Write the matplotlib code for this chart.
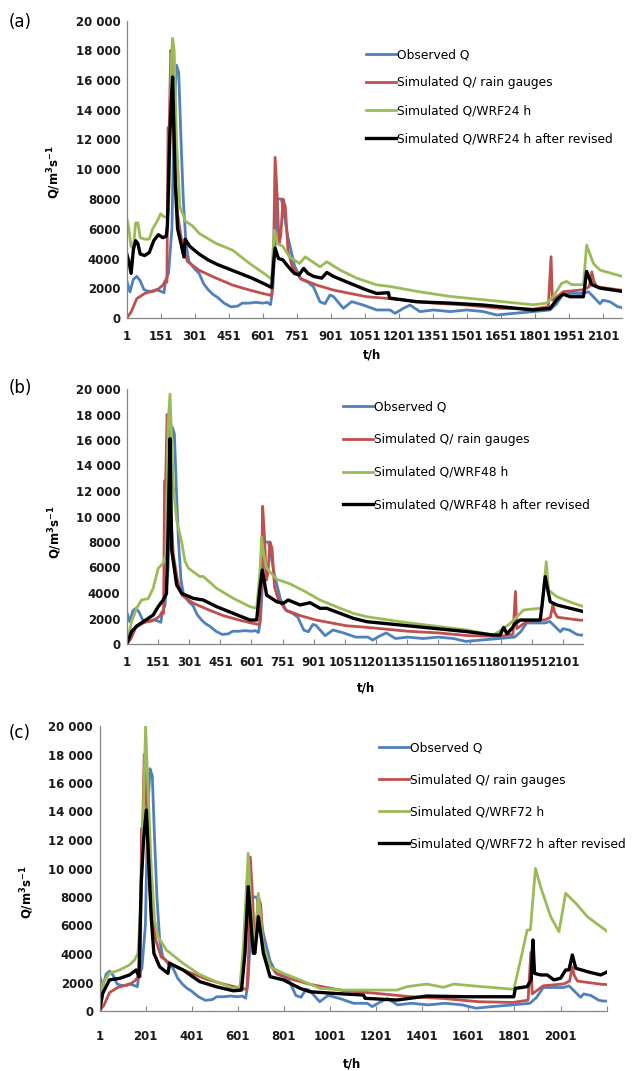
import matplotlib
matplotlib.use("Agg")
import matplotlib.pyplot as plt

# ---- data (t in hours, Q in m3/s) ----
# observed Q and the rain gauge simulation are the same in all three panels
obs_t = [1, 15, 30, 45, 60, 77, 95, 110, 130, 150, 165, 172, 185, 200, 210, 220, 230, 240, 250, 262,
         275, 300, 320, 340, 360, 380, 400, 430, 460, 490, 510, 540, 570, 600, 620, 635, 645, 655, 662, 683,
         700, 712, 741, 770, 800, 824, 853, 875, 897, 912, 956, 993, 1044, 1103, 1162, 1184, 1221, 1250, 1294, 1353,
         1427, 1500, 1574, 1633, 1706, 1794, 1868, 1897, 1926, 2015, 2037, 2088, 2101, 2132, 2166, 2184, 2205]
obs_q = [2500, 1750, 2600, 2800, 2500, 1900, 1800, 1800, 1900, 1800, 1700, 2500, 3000, 6000, 14000, 17000, 16500, 12000, 8000, 5000,
         3800, 3300, 3000, 2300, 1900, 1600, 1400, 1000, 750, 800, 1000, 1000, 1050, 1000, 1050, 900, 2000, 5000, 8000, 8000,
         6500, 5400, 3500, 2600, 2400, 2100, 1090, 960, 1540, 1450, 650, 1100, 870, 540, 540, 310, 650, 870, 430, 540,
         430, 540, 430, 200, 310, 430, 540, 960, 1650, 1650, 1770, 960, 1200, 1090, 760, 700, 700]

gauge_t = [1, 20, 45, 60, 80, 100, 120, 140, 160, 170, 178, 183, 188, 195, 200, 210, 225, 245, 268, 321,
           395, 468, 542, 600, 630, 640, 648, 655, 665, 672, 680, 690, 700, 712, 730, 766, 839, 912, 986, 1059,
           1133, 1206, 1353, 1500, 1647, 1794, 1860, 1872, 1878, 1890, 1926, 2015, 2040, 2052, 2060, 2074, 2176, 2205]
gauge_q = [0, 400, 1300, 1450, 1650, 1750, 1800, 1950, 2200, 2500, 2400, 12800, 12800, 18000, 17500, 11000, 7000, 5000, 3800, 3200,
           2680, 2210, 1880, 1650, 1550, 1500, 4000, 10800, 8000, 5000, 5500, 8000, 7500, 4500, 3500, 2660, 2210, 1880, 1650, 1430,
           1340, 1230, 1000, 870, 650, 600, 760, 4120, 1200, 1340, 1770, 1900, 2100, 3100, 2500, 2100, 1880, 1850]

# WRF 24 h
w24_t = [1, 10, 20, 30, 40, 50, 60, 80, 100, 115, 135, 150, 165, 178, 185, 192, 198, 203, 210, 220,
         235, 260, 290, 321, 395, 468, 542, 616, 640, 646, 652, 665, 690, 719, 763, 788, 853, 883, 942, 1015,
         1103, 1162, 1280, 1427, 1574, 1721, 1794, 1853, 1882, 1919, 1941, 1963, 2015, 2029, 2059, 2088, 2185]
w24_q = [6700, 6000, 4800, 4700, 6400, 6400, 5400, 5300, 5300, 6000, 6500, 7000, 6800, 6800, 7000, 12000, 17500, 18800, 18000, 12000,
         7500, 6500, 6200, 5680, 5010, 4560, 3670, 2890, 2600, 4500, 5900, 5000, 4800, 4100, 3670, 4110, 3440, 3780, 3220, 2680,
         2230, 2120, 1790, 1450, 1230, 1000, 890, 1000, 1450, 2330, 2460, 2240, 2240, 4900, 3660, 3220, 2800]
r24_t = [1, 10, 20, 30, 40, 50, 60, 80, 100, 120, 140, 160, 175, 180, 190, 197, 203, 210, 215,
         225, 240, 253, 258, 280, 320, 360, 400, 450, 500, 550, 600, 640, 650, 655, 670, 690, 710, 740, 760,
         781, 800, 824, 861, 883, 912, 986, 1059, 1103, 1155, 1160, 1280, 1427, 1574, 1721, 1794, 1868, 1897, 1926, 1956,
         2015, 2029, 2052, 2088, 2185]
r24_q = [4300, 3800, 3000, 4600, 5200, 5000, 4300, 4200, 4400, 5200, 5600, 5400, 5500, 6200, 12000, 14500, 16200, 12000, 9000,
         6000, 5000, 4100, 5300, 4800, 4300, 3900, 3600, 3300, 3000, 2700, 2350, 2050, 4000, 4700, 4000, 3900, 3500, 3000, 2900,
         3330, 3000, 2800, 2680, 3060, 2800, 2330, 1880, 1650, 1700, 1340, 1090, 1000, 870, 650, 540, 650, 1230, 1600, 1430,
         1430, 3130, 2240, 2010, 1790]

# WRF 48 h
w48_t = [1, 24, 48, 72, 104, 128, 152, 176, 189, 195, 200, 209, 217, 225, 241, 265, 281, 297, 353, 369,
         433, 514, 594, 626, 642, 650, 660, 674, 722, 787, 851, 931, 1028, 1092, 1156, 1317, 1477, 1638, 1766, 1815,
         1847, 1887, 1911, 1991, 2000, 2020, 2031, 2071, 2152, 2200]
w48_q = [0, 1750, 2800, 3450, 3560, 4370, 5930, 6340, 7000, 12000, 17400, 19600, 16100, 12300, 9700, 8000, 6500, 5950, 5280, 5300,
         4370, 3580, 2930, 2800, 5670, 8400, 7000, 5950, 5090, 4710, 4190, 3450, 2800, 2400, 2140, 1750, 1420, 1100, 700, 1230,
         1620, 2270, 2670, 2800, 2900, 6450, 4230, 3710, 3190, 2930]
r48_t = [1, 24, 48, 80, 128, 152, 176, 192, 200, 209, 217, 225, 241, 265, 321, 369, 433, 514, 594, 626,
         642, 653, 674, 722, 754, 778, 835, 883, 931, 963, 1092, 1156, 1317, 1477, 1638, 1766, 1798, 1815, 1831, 1855,
         1871, 1895, 1991, 1999, 2015, 2039, 2071, 2200]
r48_q = [0, 970, 1400, 1750, 2270, 2930, 3450, 3970, 9000, 16100, 7400, 6450, 4630, 3970, 3580, 3450, 2930, 2400, 1880, 1880,
         4370, 5800, 3840, 3320, 3190, 3450, 3060, 3240, 2800, 2800, 2010, 1750, 1490, 1230, 970, 700, 700, 1300, 800, 1230,
         1620, 1880, 1880, 2930, 5280, 3320, 3060, 2540]

# WRF 72 h
w72_t = [1, 15, 44, 88, 131, 153, 168, 182, 192, 201, 211, 226, 240, 255, 291, 363, 436, 508, 581, 610,
         625, 646, 661, 675, 690, 712, 741, 799, 871, 957, 1059, 1291, 1335, 1421, 1493, 1537, 1610, 1798, 1834, 1856,
         1870, 1892, 1914, 1958, 1994, 2023, 2067, 2117, 2175, 2205]
w72_q = [0, 1940, 2640, 2880, 3230, 3580, 4050, 8000, 14600, 20000, 15740, 9900, 6390, 5220, 4280, 3350, 2550, 2050, 1600, 1700,
         4510, 11070, 6390, 4500, 8260, 4500, 3100, 2640, 2180, 1590, 1470, 1470, 1710, 1890, 1660, 1890, 1780, 1520, 4050, 5680,
         5700, 10010, 8720, 6620, 5570, 8260, 7560, 6620, 5920, 5570]
r72_t = [1, 15, 44, 88, 131, 160, 172, 182, 192, 204, 211, 226, 237, 262, 298, 305, 363, 436, 508, 581,
         617, 632, 646, 668, 675, 690, 712, 741, 799, 871, 914, 1016, 1146, 1153, 1291, 1421, 1595, 1798, 1805, 1856,
         1873, 1881, 1888, 1914, 1943, 1972, 2001, 2023, 2037, 2052, 2067, 2117, 2175, 2205]
r72_q = [0, 1240, 2180, 2290, 2530, 2880, 2410, 9000, 12000, 14100, 11770, 6390, 4050, 3100, 2640, 3350, 2880, 2060, 1700, 1420,
         1470, 4050, 8720, 4050, 4050, 6620, 4050, 2410, 2180, 1590, 1350, 1240, 1120, 890, 770, 1050, 1000, 1000, 1590, 1710,
         2180, 4980, 2640, 2530, 2530, 2180, 2300, 2880, 2880, 3930, 3000, 2760, 2530, 2760]

y_ticks = [0, 2000, 4000, 6000, 8000, 10000, 12000, 14000, 16000, 18000, 20000]
y_tick_labels = ["0", "2000", "4000", "6000", "8000", "10 000", "12 000", "14 000", "16 000", "18 000", "20 000"]
x_ticks_ab = [1, 151, 301, 451, 601, 751, 901, 1051, 1201, 1351, 1501, 1651, 1801, 1951, 2101]
x_ticks_c = [1, 201, 401, 601, 801, 1001, 1201, 1401, 1601, 1801, 2001, 2201]
x_labels_c = ["1", "201", "401", "601", "801", "1001", "1201", "1401", "1601", "1801", "2001", ""]

colors = {"obs": "#4F81BD", "gauge": "#C0504D", "wrf": "#9BBB59", "rev": "#000000"}

W, H = 632, 1071


def fx(px):
    return px / W


def fy(py):
    return 1 - py / H


panels = [
    # label, axes box in px (left, top, right, bottom), xlim end, series, hours, ticks, legend
    dict(tag="(a)", box=(126.8, 20.5, 622, 318), xmax=2185, wrf=(w24_t, w24_q), rev=(r24_t, r24_q), hours="24",
         xticks=x_ticks_ab, xlabels=[str(t) for t in x_ticks_ab], xpad=8.5,
         leg=(366, 48.5), spacing=1.22, tag_pos=(20, 22), ylab=(54, 172), xlab=(372, 355)),
    dict(tag="(b)", box=(126.8, 389, 583, 644), xmax=2197, wrf=(w48_t, w48_q), rev=(r48_t, r48_q), hours="48",
         xticks=x_ticks_ab, xlabels=[str(t) for t in x_ticks_ab], xpad=8.5,
         leg=(343, 400.5), spacing=1.61, tag_pos=(20, 388), ylab=(55, 532), xlab=(366, 688)),
    dict(tag="(c)", box=(99.5, 726, 606.7, 1011), xmax=2201, wrf=(w72_t, w72_q), rev=(r72_t, r72_q), hours="72",
         xticks=x_ticks_c, xlabels=x_labels_c, xpad=14,
         leg=(379, 741.5), spacing=1.56, tag_pos=(20, 733), ylab=(27, 892), xlab=(352, 1064)),
]

fig = plt.figure(figsize=(W / 100, H / 100), dpi=100)

for p in panels:
    l, t, r, b = p["box"]
    ax = fig.add_axes([fx(l), fy(b), fx(r) - fx(l), fy(t) - fy(b)])

    ax.plot(obs_t, obs_q, color=colors["obs"], lw=2.0, label="Observed Q")
    ax.plot(gauge_t, gauge_q, color=colors["gauge"], lw=2.0, label="Simulated Q/ rain gauges")
    ax.plot(*p["wrf"], color=colors["wrf"], lw=2.0, label="Simulated Q/WRF%s h" % p["hours"])
    ax.plot(*p["rev"], color=colors["rev"], lw=2.4, label="Simulated Q/WRF%s h after revised" % p["hours"])

    ax.set_xlim(1, p["xmax"])
    ax.set_ylim(0, 20000)
    ax.set_yticks(y_ticks)
    ax.set_yticklabels(y_tick_labels)
    ax.set_xticks(p["xticks"])
    ax.set_xticklabels(p["xlabels"])

    for side in ["top", "right"]:
        ax.spines[side].set_visible(False)
    for side in ["left", "bottom"]:
        ax.spines[side].set_color("#868686")
        ax.spines[side].set_linewidth(0.9)

    ax.tick_params(axis="x", direction="in", length=3.5, width=0.8, color="#868686", pad=p["xpad"])
    ax.tick_params(axis="y", length=0, pad=4.5)
    for lbl in ax.get_xticklabels() + ax.get_yticklabels():
        lbl.set_fontsize(8.5)
        lbl.set_fontweight("bold")
        lbl.set_color("#1a1a1a")

    ax.legend(loc="upper left", bbox_to_anchor=(fx(p["leg"][0]), fy(p["leg"][1])),
              bbox_transform=fig.transFigure, frameon=False, fontsize=8.8,
              handlelength=2.45, handletextpad=0.05, labelspacing=p["spacing"],
              borderpad=0, borderaxespad=0)

    fig.text(fx(p["tag_pos"][0]), fy(p["tag_pos"][1]), p["tag"], fontsize=12, ha="center", va="center")
    fig.text(fx(p["ylab"][0]), fy(p["ylab"][1]), r"Q/m$^{\mathbf{3}}$s$^{\mathbf{-1}}$",
             rotation=90, fontsize=8.5, fontweight="bold", ha="center", va="center")
    fig.text(fx(p["xlab"][0]), fy(p["xlab"][1]), "t/h", fontsize=8.5, fontweight="bold",
             ha="center", va="center")

fig.savefig("out.png", dpi=100)
